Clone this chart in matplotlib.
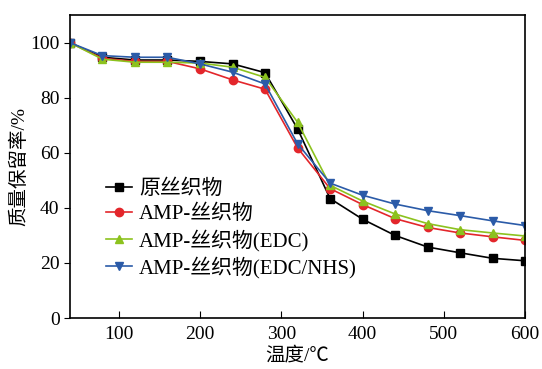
import matplotlib
matplotlib.use("Agg")
import matplotlib.pyplot as plt

plt.rcParams['font.family'] = ['Liberation Serif', 'Noto Sans CJK SC']
plt.rcParams['axes.unicode_minus'] = False

temp = [40, 80, 120, 160, 200, 240, 280, 320, 360, 400, 440, 480, 520, 560, 600]

raw = [100, 94.7, 93.7, 93.7, 93.2, 92.3, 89.1, 68.7, 43.4, 35.9, 30.0, 25.8, 23.7, 21.7, 20.8]
amp = [100, 94.3, 93.2, 93.2, 90.5, 86.5, 83.1, 61.8, 47.0, 41.2, 36.1, 32.9, 30.9, 29.5, 28.2]
amp_edc = [100, 94.0, 92.9, 92.9, 92.6, 91.1, 87.4, 71.1, 48.2, 42.5, 37.8, 34.3, 32.1, 30.9, 29.8]
amp_nhs = [100, 95.3, 94.7, 94.7, 92.3, 89.3, 85.0, 63.3, 49.0, 44.6, 41.4, 39.0, 37.2, 35.3, 33.6]

labels = ['原丝织物', 'AMP-丝织物', 'AMP-丝织物(EDC)', 'AMP-丝织物(EDC/NHS)']
colors = ['#000000', '#e3262b', '#8cc21e', '#2b5ba8']
markers = ['s', 'o', '^', 'v']

fig = plt.figure(figsize=(5.42, 3.69), dpi=100)
ax = fig.add_axes([0.129, 0.138, 0.840, 0.821])

for ys, lab, c, m in zip([raw, amp, amp_edc, amp_nhs], labels, colors, markers):
    ax.plot(temp, ys, color=c, marker=m, markersize=6, linewidth=1.2, label=lab)

ax.set_xlim(40, 600)
ax.set_ylim(0, 110)
ax.set_xticks([100, 200, 300, 400, 500, 600])
ax.set_yticks([0, 20, 40, 60, 80, 100])
ax.tick_params(axis='x', direction='in', length=5, labelsize=14, pad=6)
ax.tick_params(axis='y', direction='out', length=4, labelsize=14)
for s in ax.spines.values():
    s.set_linewidth(1.2)

ax.set_xlabel('温度/℃', fontsize=14, labelpad=2)
ax.set_ylabel('质量保留率/%', fontsize=14, labelpad=1)

ax.legend(loc='upper left', bbox_to_anchor=(0.06, 0.485), frameon=False, fontsize=15,
          handlelength=1.25, handletextpad=0.35, labelspacing=0.25, borderaxespad=0)

fig.savefig('out.png', dpi=100)
